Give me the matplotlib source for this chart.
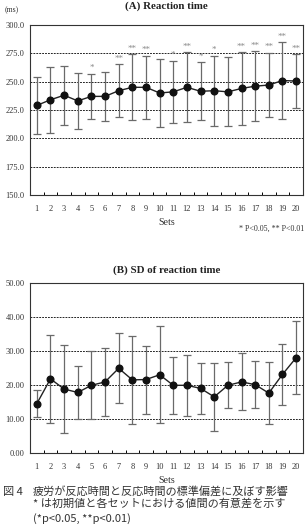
import numpy as np
import matplotlib
matplotlib.use("Agg")
import matplotlib.pyplot as plt
from matplotlib.ticker import FixedLocator

plt.rcParams['font.family'] = ['Liberation Serif', 'DejaVu Serif']

# data
sets = np.arange(1, 21)
rt_mean = [229, 234, 238, 233, 237, 237, 242, 245, 245, 240,
           241, 245, 241.5, 242, 241, 244, 246, 247, 251, 250.5]
rt_sd = [25, 29, 26, 25, 20, 21.5, 23.5, 29, 28, 30,
         27.5, 31, 25.5, 31, 30.5, 32, 31, 28.5, 34, 24]
rt_sig = ['', '', '', '', '*', '', '**', '**', '**', '',
          '*', '**', '*', '*', '', '**', '**', '**', '**', '**']

sd_mean = [14.5, 21.8, 18.8, 17.8, 19.9, 20.9, 24.9, 21.5, 21.6, 23.0,
           19.9, 19.9, 19.0, 16.5, 19.9, 20.9, 20.1, 17.6, 23.1, 28.0]
sd_err = [3.9, 13.0, 13.0, 7.8, 10.0, 10.0, 10.3, 13.0, 10.0, 14.3,
          8.3, 9.0, 7.5, 10.0, 6.8, 8.4, 7.0, 9.2, 9.0, 10.8]

fig = plt.figure(figsize=(3.07, 5.29), dpi=100)
axA = fig.add_axes([0.0977, 0.6314, 0.889, 0.3214])
axB = fig.add_axes([0.0977, 0.1437, 0.889, 0.3214])


def draw_panel(ax, mean, err, ylim, grid, step, fmt, title, tpad):
    ax.set_xlim(0.5, 20.5)
    ax.set_ylim(*ylim)
    for g in grid:
        ax.axhline(g, color='black', lw=0.6, ls=(0, (2.2, 1.3)), zorder=1)
    ax.errorbar(sets, mean, yerr=err, fmt='none', ecolor='#6a6a6a',
                elinewidth=0.9, capsize=2.6, capthick=0.9, zorder=2)
    ax.plot(sets, mean, color='#222222', lw=1.0, marker='o', ms=4.8,
            mfc='#111111', mec='#111111', zorder=3)
    ax.set_xticks(sets)
    ax.set_xticklabels([str(s) for s in sets], fontsize=6.0)
    ax.xaxis.set_minor_locator(FixedLocator(np.arange(1.5, 20, 1)))
    ax.tick_params(axis='x', which='major', length=0, pad=7)
    ax.tick_params(axis='x', which='minor', direction='in', length=2.5, width=0.7)
    ax.tick_params(axis='y', length=0, labelsize=6.0, pad=4)
    ax.set_yticks(np.arange(ylim[0], ylim[1] + 0.01, step))
    ax.yaxis.set_major_formatter(plt.FormatStrFormatter(fmt))
    for lab in ax.get_yticklabels() + ax.get_xticklabels():
        lab.set_color('#333333')
    for s in ax.spines.values():
        s.set_linewidth(0.8)
        s.set_color('#333333')
    ax.set_xlabel('Sets', fontsize=7.2, labelpad=4, color='#333333')
    ax.set_title(title, fontsize=7.8, fontweight='bold', pad=tpad, color='#222222')


draw_panel(axA, rt_mean, rt_sd, (150, 300), [175, 200, 225, 250, 275], 25, '%.1f',
           '(A) Reaction time', 12)
draw_panel(axB, sd_mean, sd_err, (0, 50), [10, 20, 30, 40], 10, '%.2f',
           '(B) SD of reaction time', 7)

for x, m, e, s in zip(sets, rt_mean, rt_sd, rt_sig):
    if s:
        axA.text(x, m + e + 1.2, s, ha='center', va='bottom', fontsize=6.5,
                 color='#888888')

fig.text(0.015, 0.981, '(ms)', fontsize=5.5, color='#333333', va='center')
fig.text(0.99, 0.567, '* P<0.05, ** P<0.01', fontsize=5.8, ha='right',
         va='center', color='#333333')

cap_font = ['Noto Sans CJK JP', 'DejaVu Sans']
fig.text(0.01, 0.070, '図 4', fontsize=8.0, family=cap_font, va='center',
         color='#333333')
fig.text(0.107, 0.070, '疲労が反応時間と反応時間の標準偏差に及ぼす影響',
         fontsize=8.0, family=cap_font, va='center', color='#333333')
fig.text(0.107, 0.049, '* は初期値と各セットにおける値間の有意差を示す',
         fontsize=8.0, family=cap_font, va='center', color='#333333')
fig.text(0.107, 0.020, '(*p<0.05, **p<0.01)',
         fontsize=8.0, family=cap_font, va='center', color='#333333')

fig.savefig('out.png', dpi=100)
